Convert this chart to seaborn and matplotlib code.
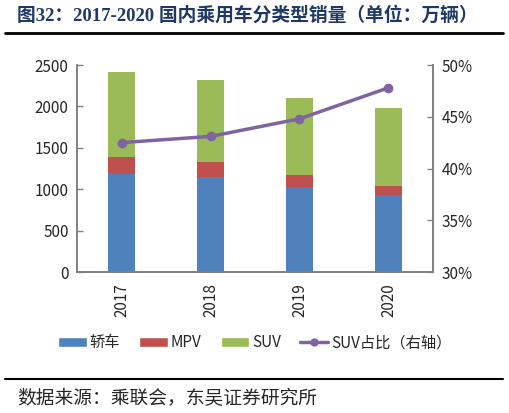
import numpy as np
import pandas as pd
import seaborn as sns
import matplotlib.pyplot as plt
from matplotlib.patches import Patch
from matplotlib.lines import Line2D
from matplotlib.ticker import FuncFormatter, FixedLocator

years = ['2017', '2018', '2019', '2020']
sedan = [1185, 1152, 1031, 927]
mpv = [207, 173, 138, 106]
suv = [1025, 999, 935, 946]
suv_share = [42.5, 43.1, 44.8, 47.8]

series_names = ['轿车', 'MPV', 'SUV', 'SUV占比（右轴）']
colors = ['#4F81BD', '#C0504D', '#9BBB59', '#8064A2']

sns.set_style('white')
plt.rcParams['font.family'] = ['Noto Sans CJK SC', 'DejaVu Sans']

df = pd.DataFrame({'year': years, 'sedan': sedan, 'mpv': mpv, 'suv': suv})
df['lvl1'] = df['sedan']
df['lvl2'] = df['sedan'] + df['mpv']
df['lvl3'] = df['lvl2'] + df['suv']

fig = plt.figure(figsize=(5.1, 4.13), dpi=100)
ax = fig.add_axes([0.151, 0.3414, 0.698, 0.5012])

# stacked bars: draw cumulative totals from the top down
for col, c in zip(['lvl3', 'lvl2', 'lvl1'], [colors[2], colors[1], colors[0]]):
    sns.barplot(data=df, x='year', y=col, color=c, width=0.31, ax=ax,
                saturation=1, linewidth=0)

ax.set_xlim(-0.5, len(years) - 0.5)
ax.set_ylim(0, 2500)
ax.set_yticks(range(0, 2501, 500))
ax.set_xlabel('')
ax.set_ylabel('')
ax.tick_params(axis='y', direction='in', length=4, width=1, color='#808080',
               labelsize=11, pad=6)
ax.tick_params(axis='x', which='major', length=0, labelsize=11, pad=8)
ax.tick_params(axis='x', which='minor', direction='in', length=4, width=1,
               color='#808080')
ax.xaxis.set_minor_locator(FixedLocator(np.arange(len(years) - 1) + 0.5))
plt.setp(ax.get_xticklabels(), rotation=90)
for s in ['left', 'bottom', 'right']:
    ax.spines[s].set_color('#808080')
    ax.spines[s].set_linewidth(1.2)
ax.spines['top'].set_visible(False)

ax2 = ax.twinx()
sns.lineplot(x=np.arange(len(years)), y=suv_share, ax=ax2, color=colors[3],
             linewidth=2.5, marker='o', markersize=7, markeredgewidth=0)
ax2.set_ylim(30, 50)
ax2.set_yticks(range(30, 51, 5))
ax2.yaxis.set_major_formatter(FuncFormatter(lambda v, p: f'{v:.0f}%'))
ax2.tick_params(axis='y', direction='in', length=4, width=1, color='#808080',
                labelsize=11, pad=6)
for s in ['left', 'bottom', 'right']:
    ax2.spines[s].set_color('#808080')
    ax2.spines[s].set_linewidth(1.2)
ax2.spines['top'].set_visible(False)

handles = [Patch(facecolor=colors[0]), Patch(facecolor=colors[1]),
           Patch(facecolor=colors[2]),
           Line2D([0], [0], color=colors[3], linewidth=2.5, marker='o', markersize=5)]
fig.legend(handles, series_names, loc='center', bbox_to_anchor=(0.5, 0.17),
           ncol=4, frameon=False, fontsize=11, handlelength=1.85, handleheight=0.6,
           handletextpad=0.2, columnspacing=1.25)

fig.text(0.033, 0.963, '图32：2017-2020 国内乘用车分类型销量（单位：万辆）',
         ha='left', va='center', fontsize=13.5, fontweight='bold', color='#1F3864',
         family=['Liberation Serif', 'Noto Sans CJK SC'])
fig.add_artist(Line2D([0.01, 0.987], [0.92, 0.92], color='black', linewidth=2))
fig.add_artist(Line2D([0.01, 0.987], [0.082, 0.082], color='black', linewidth=1.5))
fig.text(0.033, 0.036, '数据来源：乘联会，东吴证券研究所', ha='left', va='center',
         fontsize=13.5)

fig.savefig('out.png', dpi=100)
